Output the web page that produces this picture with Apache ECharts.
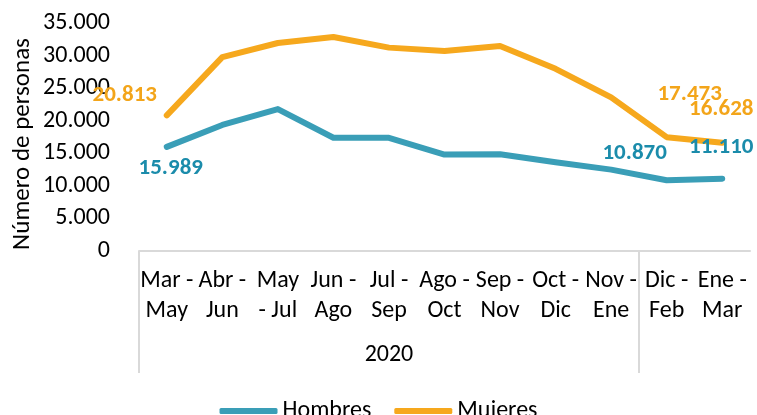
<!DOCTYPE html>
<html>
<head>
<meta charset="utf-8">
<script src="https://cdn.jsdelivr.net/npm/echarts@6/dist/echarts.min.js"></script>
<style>
  html, body { margin: 0; padding: 0; background: #fff; }
  #chart { width: 757px; height: 415px; }
</style>
</head>
<body>
<div id="chart"></div>
<script>
// data
var categories = ['Mar -\nMay', 'Abr -\nJun', 'May\n- Jul', 'Jun -\nAgo', 'Jul -\nSep', 'Ago -\nOct',
  'Sep -\nNov', 'Oct -\nDic', 'Nov -\nEne', 'Dic -\nFeb', 'Ene -\nMar'];
var groupLabels = ['', '', '', '', '2020', '', '', '', '', '', ''];
var hombres = [15989, 19350, 21780, 17380, 17380, 14810, 14850, 13620, 12490, 10870, 11110];
var mujeres = [20813, 29770, 31930, 32860, 31220, 30700, 31470, 27970, 23580, 17473, 16628];
var yTicks = { min: 0, max: 35000, interval: 5000 };
var yTitle = 'Número de personas';

var FONT = 'Carlito, Lato, sans-serif';
var FS = 24;
var TEAL = '#3A9EB7', TEAL_TXT = '#1B8CAB';
var ORANGE = '#F6A81D', ORANGE_TXT = '#F3A51A';

function fmt(v) {
  return String(v).replace(/\B(?=(\d{3})+(?!\d))/g, '.');
}

// which points carry a value label, and where it sits relative to the point
var hombresLabels = { 0: [4, 21], 9: [-32, -27], 10: [-1, -31] };
var mujeresLabels = { 0: [-42, -20], 9: [23, -43], 10: [-1, -33] };

function buildData(values, labels, color) {
  return values.map(function (v, i) {
    if (!labels[i]) return v;
    return {
      value: v,
      label: {
        show: true, position: 'inside', offset: labels[i], color: color,
        fontFamily: FONT, fontSize: 23, fontWeight: 'bold', formatter: function (p) { return fmt(p.value); }
      }
    };
  });
}

var chart = echarts.init(document.getElementById('chart'));
chart.setOption({
  animation: false,
  textStyle: { fontFamily: FONT },
  grid: [
    { left: 139, right: 7, top: 23, height: 228 },
    { left: 139, right: 7, top: 251, height: 122 }
  ],
  graphic: [{
    type: 'text', x: 23, y: 144, rotation: Math.PI / 2,
    style: { text: yTitle, font: '25px ' + FONT, fill: '#000', align: 'center', verticalAlign: 'middle' }
  }],
  legend: {
    top: 394, left: 'center', itemWidth: 58, itemHeight: 6, itemGap: 23,
    icon: 'roundRect',
    textStyle: { fontFamily: FONT, fontSize: FS, color: '#000' },
    data: ['Hombres', 'Mujeres']
  },
  xAxis: [
    {
      type: 'category', gridIndex: 0, data: categories,
      axisLine: { lineStyle: { color: '#D9D9D9', width: 2 } },
      axisTick: { show: false },
      axisLabel: { interval: 0, margin: 15, fontSize: FS, lineHeight: 30, color: '#000', fontFamily: FONT }
    },
    {
      type: 'category', gridIndex: 1, data: groupLabels,
      axisLine: { show: false },
      axisTick: { show: false },
      splitLine: {
        show: true, showMaxLine: false,
        interval: function (i) { return i === 0 || i === 9; },
        lineStyle: { color: '#D9D9D9', width: 2 }
      },
      axisLabel: { interval: 0, inside: true, margin: 6, fontSize: FS, color: '#000', fontFamily: FONT }
    }
  ],
  yAxis: [
    {
      type: 'value', gridIndex: 0, min: yTicks.min, max: yTicks.max, interval: yTicks.interval,
      axisLine: { show: false }, axisTick: { show: false }, splitLine: { show: false },
      axisLabel: { margin: 29, fontSize: FS, color: '#000', fontFamily: FONT, formatter: fmt }
    },
    { type: 'value', gridIndex: 1, show: false }
  ],
  series: [
    {
      name: 'Hombres', type: 'line', xAxisIndex: 0, yAxisIndex: 0,
      data: buildData(hombres, hombresLabels, TEAL_TXT),
      symbol: 'circle', symbolSize: 0, showSymbol: true,
      lineStyle: { color: TEAL, width: 6, cap: 'round', join: 'round' },
      itemStyle: { color: TEAL }
    },
    {
      name: 'Mujeres', type: 'line', xAxisIndex: 0, yAxisIndex: 0,
      data: buildData(mujeres, mujeresLabels, ORANGE_TXT),
      symbol: 'circle', symbolSize: 0, showSymbol: true,
      lineStyle: { color: ORANGE, width: 6, cap: 'round', join: 'round' },
      itemStyle: { color: ORANGE }
    }
  ]
});
</script>
</body>
</html>
